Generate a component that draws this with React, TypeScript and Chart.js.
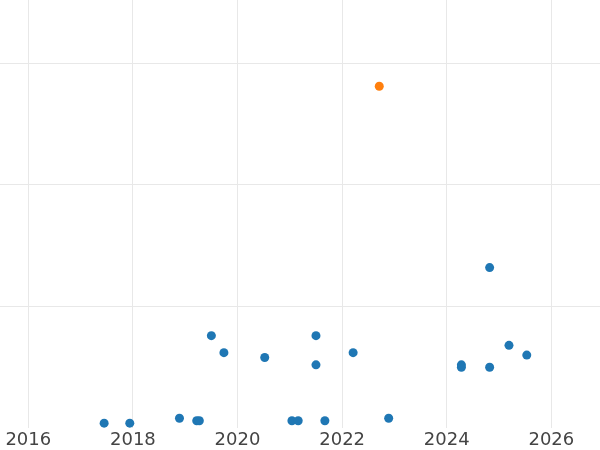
import React, { useEffect, useRef } from "react";
import { Chart, registerables } from "chart.js";

Chart.register(...registerables);

// Data
const blueYears = [
  2017.45, 2017.94, 2018.89, 2019.22, 2019.27, 2019.5, 2019.74, 2020.52,
  2021.04, 2021.16, 2021.5, 2021.5, 2021.67, 2022.21, 2022.89, 2024.28,
  2024.28, 2024.82, 2024.82, 2025.19, 2025.53,
];
const blueValues = [
  2, 2, 4, 3, 3, 38, 31, 29,
  3, 3, 38, 26, 3, 31, 4, 26,
  25, 25, 66, 34, 30,
];
const orangeYears = [2022.71];
const orangeValues = [140.6];

const xTickYears = [2016, 2018, 2020, 2022, 2024, 2026];
const yGridValues = [0, 50, 100, 150];

const X_MIN = 2015.459;
const X_MAX = 2026.93;
const Y_MIN = 0;
const Y_MAX = 176.1;

export default function App() {
  const canvasRef = useRef<HTMLCanvasElement | null>(null);

  useEffect(() => {
    const canvas = canvasRef.current;
    if (!canvas) return;
    const blue = blueYears.map((x, i) => ({ x, y: blueValues[i] }));
    const orange = orangeYears.map((x, i) => ({ x, y: orangeValues[i] }));
    const chart = new Chart(canvas, {
      type: "scatter",
      data: {
        datasets: [
          {
            data: blue,
            backgroundColor: "#1f77b4",
            borderWidth: 0,
            pointRadius: 4.5,
            pointHoverRadius: 4.5,
          },
          {
            data: orange,
            backgroundColor: "#ff7f0e",
            borderWidth: 0,
            pointRadius: 4.5,
            pointHoverRadius: 4.5,
          },
        ],
      },
      options: {
        responsive: false,
        animation: false,
        devicePixelRatio: 1,
        layout: { padding: 0, autoPadding: false },
        plugins: {
          legend: { display: false },
          tooltip: { enabled: false },
        },
        scales: {
          x: {
            type: "linear",
            min: X_MIN,
            max: X_MAX,
            afterBuildTicks: (scale: any) => {
              scale.ticks = xTickYears.map((v) => ({ value: v }));
            },
            afterFit: (scale: any) => {
              scale.height = 22;
            },
            border: { display: false },
            grid: { color: "#e8e8e8", lineWidth: 1, drawTicks: false },
            ticks: {
              padding: 2,
              color: "#444444",
              font: { family: "DejaVu Sans", size: 18 },
              maxRotation: 0,
              autoSkip: false,
              callback: (v: any) => String(v),
            },
          },
          y: {
            type: "linear",
            min: Y_MIN,
            max: Y_MAX,
            afterBuildTicks: (scale: any) => {
              scale.ticks = yGridValues.map((v) => ({ value: v }));
            },
            afterFit: (scale: any) => {
              scale.width = 0;
            },
            border: { display: false },
            grid: {
              drawTicks: false,
              lineWidth: 1,
              color: (ctx: any) =>
                ctx.tick && ctx.tick.value === 0 ? "rgba(0,0,0,0)" : "#e8e8e8",
            },
            ticks: { display: false },
          },
        },
      },
    });
    return () => chart.destroy();
  }, []);

  return (
    <div style={{ position: "absolute", left: 0, top: 0, width: 600, height: 450, background: "#ffffff" }}>
      <canvas ref={canvasRef} width={600} height={450} />
    </div>
  );
}
